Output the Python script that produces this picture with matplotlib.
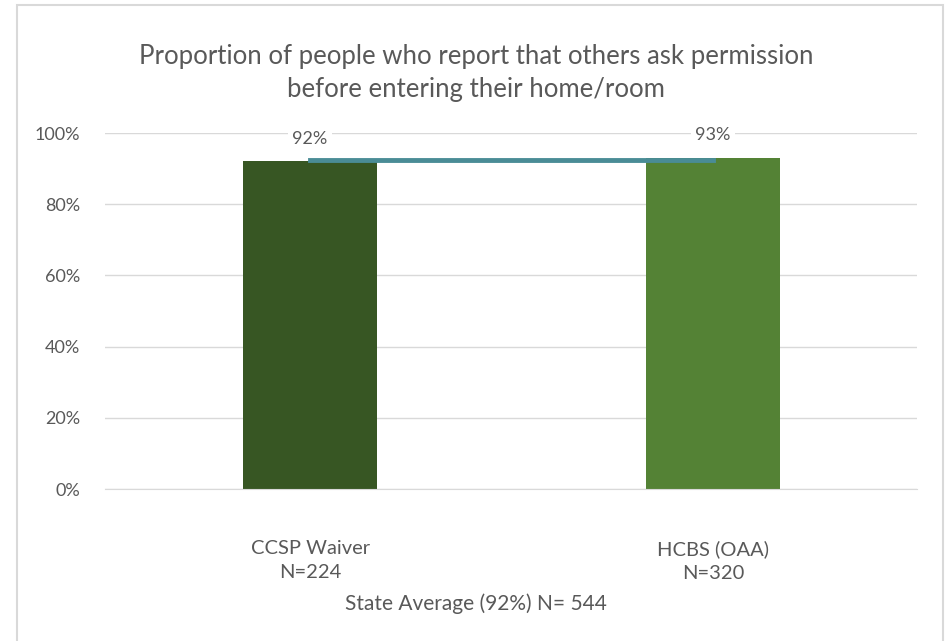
import matplotlib.pyplot as plt
from matplotlib.patches import Rectangle

categories = ["CCSP Waiver\nN=224", "HCBS (OAA)\nN=320"]
values = [92, 93]
labels = ["92%", "93%"]
state_avg = [92.5, 92.5]
bar_colors = ["#375623", "#548235"]
yticks = [0, 20, 40, 60, 80, 100]

plt.rcParams['font.family'] = ['Lato', 'DejaVu Sans']
grey = "#595959"

fig = plt.figure(figsize=(9.51, 6.41), dpi=100)
fig.patches.append(Rectangle((17 / 951, -0.01), 926 / 951, 1 - 5 / 641 + 0.01,
                             transform=fig.transFigure, fill=False,
                             edgecolor="#d9d9d9", linewidth=1.5))

ax = fig.add_axes([105 / 951, 1 - 489 / 641, 812 / 951, 356 / 641])
x = [0, 1]
ax.bar(x, values, width=0.333, color=bar_colors, zorder=2)
ax.plot(x, state_avg, color="#4a8c96", linewidth=3.5, zorder=3)

for xi, lab, yy in zip(x, labels, [98.3, 99.4]):
    ax.text(xi, yy, lab, ha="center", va="center", fontsize=13, color=grey,
            bbox=dict(facecolor="white", edgecolor="none", pad=3), zorder=4)

ax.set_xlim(-0.509, 1.506)
ax.set_ylim(0, 100)
ax.set_yticks(yticks)
ax.set_yticklabels([f"{t}%" for t in yticks], fontsize=13, color=grey)
ax.set_xticks(x)
ax.set_xticklabels(categories, fontsize=14.5, color=grey, linespacing=1.45)
ax.tick_params(length=0, pad=18, axis="y")
ax.tick_params(length=0, pad=37, axis="x")
ax.grid(axis="y", color="#d9d9d9", linewidth=1, zorder=0)
ax.set_axisbelow(True)
for s in ax.spines.values():
    s.set_visible(False)
ax.spines["bottom"].set_visible(True)
ax.spines["bottom"].set_color("#d9d9d9")

fig.text(476 / 951, 1 - 73 / 641,
         "Proportion of people who report that others ask permission\nbefore entering their home/room",
         ha="center", va="center", fontsize=18.5, color=grey, linespacing=1.4)
fig.text(476 / 951, 1 - 604 / 641, "State Average (92%) N= 544",
         ha="center", va="center", fontsize=15, color=grey)

fig.savefig("out.png", dpi=100)
